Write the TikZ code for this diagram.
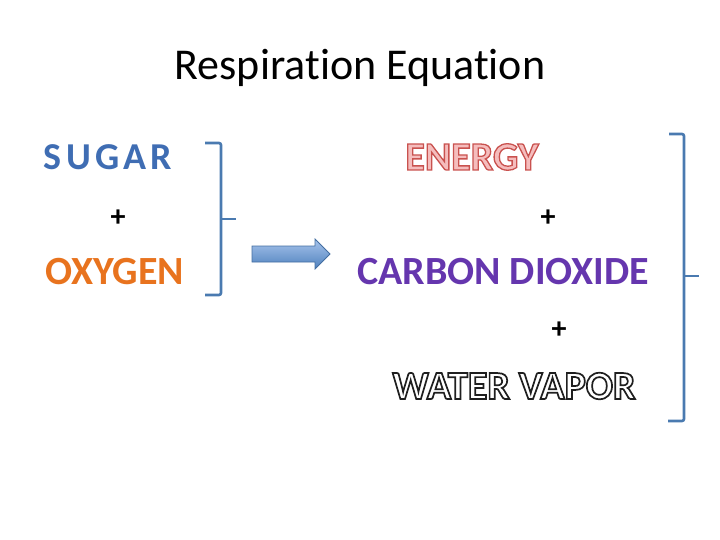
\documentclass[tikz,border=0pt]{standalone}
\usepackage{fontspec}
\setmainfont{Carlito}[Ligatures=NoCommon]
\newfontfamily\spaced[LetterSpace=11]{Carlito}
\newcommand\outlined[3]{\special{pdf:code 2 Tr #1 w #2 RG}#3\special{pdf:code 0 Tr}}
\definecolor{brk}{HTML}{4A7AB0}
\definecolor{sugarblue}{HTML}{3F6DB3}
\definecolor{oxyorange}{HTML}{E8731E}
\definecolor{co2purple}{HTML}{6536AE}
\definecolor{enfill}{HTML}{F5BDBD}
\definecolor{arrtop}{HTML}{A7C4EC}
\definecolor{arrbot}{HTML}{4F81BD}
\begin{document}
\begin{tikzpicture}[x=1pt,y=-1pt,
  word/.style={inner sep=0pt, font=\fontsize{40}{40}\selectfont\bfseries},
  plus/.style={inner sep=0pt, font=\fontsize{30}{30}\selectfont\bfseries},
  bracket/.style={draw=brk, line width=2.6pt, line join=round, rounded corners=2pt}]
\useasboundingbox (0,0) rectangle (720,540);
\node[inner sep=0pt, font=\fontsize{44}{44}\selectfont] (title) at (360,68) {Respiration Equation};
\node[inner sep=0pt, text=sugarblue, font=\fontsize{38}{38}\spaced\bfseries] (sugar) at (108,157) {SUGAR};
\node[plus] (p1) at (118,218) {+};
\node[word, text=oxyorange] (oxygen) at (115,272) {OXYGEN};
\node[word, text=enfill] (energy) at (472,157) {\outlined{1.3}{0.79 0.32 0.31}{ENERGY}};
\node[plus] (p2) at (548,218) {+};
\node[word, text=co2purple] (co2) at (503,272) {CARBON DIOXIDE};
\node[plus] (p3) at (559,330) {+};
\node[word, text=white] (water) at (514,386) {\outlined{1.7}{0.12 0.12 0.12}{WATER VAPOR}};
% left bracket
\draw[bracket] (205,143) -- (221,143) -- (221,295) -- (205,295);
\draw[draw=brk, line width=2.6pt] (221,219) -- (236,219);
% right bracket
\draw[bracket] (669,134) -- (684,134) -- (684,421) -- (668,421);
\draw[draw=brk, line width=2.6pt] (684,276) -- (699,276);
% arrow
\shade[top color=arrtop, bottom color=arrbot, draw=arrbot!85!black, line width=0.8pt]
  (252,246) -- (315,246) -- (315,239) -- (330,254) -- (315,269) -- (315,262) -- (252,262) -- cycle;
\end{tikzpicture}
\end{document}
